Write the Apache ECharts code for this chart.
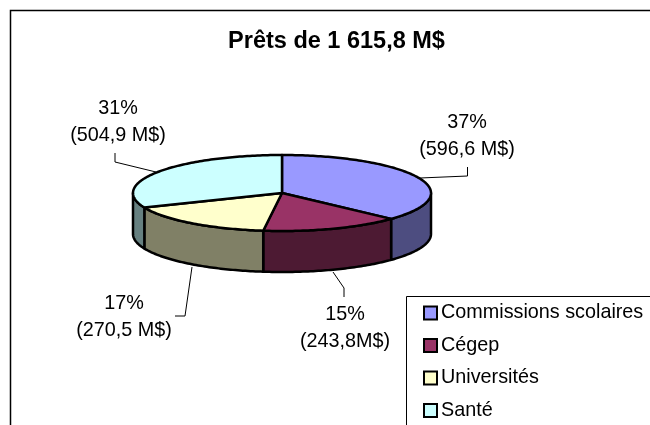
<!DOCTYPE html>
<html>
<head>
<meta charset="utf-8">
<style>
  html, body { margin: 0; padding: 0; background: #fff; }
  #chart { width: 650px; height: 425px; }
</style>
<script src="https://cdn.jsdelivr.net/npm/echarts@6/dist/echarts.min.js"></script>
</head>
<body>
<div id="chart"></div>
<script>
const categories = ['Commissions scolaires', 'Cégep', 'Universités', 'Santé'];
const amounts = [596.6, 243.8, 270.5, 504.9];
const topColors = ['#9999FF', '#993366', '#FFFFCC', '#CCFFFF'];
const sideColors = ['#4D4D80', '#4D1A33', '#808066', '#668080'];
const labelTexts = ['37%\n(596,6 M$)', '15%\n(243,8M$)', '17%\n(270,5 M$)', '31%\n(504,9 M$)'];
const labelPos = [[467, 136], [345, 328], [124, 317], [118, 122]];
const leaderLines = [
  [[420, 178], [467.5, 176], [467.5, 167]],
  [[333, 272], [344, 288], [344, 297]],
  [[192, 267], [185, 316], [175, 316]],
  [[115, 153], [115, 162], [156, 172]]
];

const cx = 282, cy = 193, rx = 149, ry = 38, depth = 41;
const total = amounts.reduce((a, b) => a + b, 0);

function pt (deg, dy) {
  const t = deg * Math.PI / 180;
  return [cx + rx * Math.sin(t), cy - ry * Math.cos(t) + (dy || 0)];
}
function arc (from, to, dy) {
  const pts = [];
  for (let d = from; d < to; d += 1) pts.push(pt(d, dy));
  pts.push(pt(to, dy));
  return pts;
}

// no 3d pie in echarts, so each slice is a custom series
function renderSlice (index) {
  return function (params, api) {
    const start = api.value(0) / total * 360;
    const end = api.value(1) / total * 360;
    const children = [];
    const from = Math.max(start, 90);
    const to = Math.min(end, 270);
    if (from < to) {
      children.push({
        type: 'polygon',
        shape: { points: arc(from, to, 0).concat(arc(from, to, depth).reverse()) },
        style: { fill: sideColors[index], stroke: '#000', lineWidth: 2.5, lineJoin: 'round' }
      });
    }
    children.push({
      type: 'polygon',
      shape: { points: [[cx, cy]].concat(arc(start, end, 0)) },
      style: { fill: topColors[index], stroke: '#000', lineWidth: 2.5, lineJoin: 'round' }
    });
    return { type: 'group', children: children };
  };
}

let running = 0;
const series = categories.map((name, i) => {
  const s = {
    name: name,
    type: 'custom',
    coordinateSystem: 'none',
    silent: true,
    animation: false,
    itemStyle: { color: topColors[i] },
    renderItem: renderSlice(i),
    data: [[running, running + amounts[i]]]
  };
  running += amounts[i];
  return s;
});

const frame = [
  { type: 'polyline', shape: { points: [[10.5, 425], [10.5, 10.5], [650, 10.5]] }, style: { fill: null, stroke: '#000', lineWidth: 1.5 } },
  { type: 'polyline', shape: { points: [[406.5, 425], [406.5, 296.5], [650, 296.5]] }, style: { fill: null, stroke: '#000', lineWidth: 1 } }
];
const leaders = leaderLines.map(points => ({
  type: 'polyline',
  shape: { points: points },
  style: { fill: null, stroke: '#000', lineWidth: 1 }
}));
const labels = labelTexts.map((text, i) => ({
  type: 'text',
  x: labelPos[i][0],
  y: labelPos[i][1],
  style: {
    text: text,
    fill: '#000',
    font: '19.8px "Liberation Sans"',
    lineHeight: 27,
    align: 'center',
    verticalAlign: 'middle'
  }
}));

const chart = echarts.init(document.getElementById('chart'));
chart.setOption({
  animation: false,
  backgroundColor: '#fff',
  title: {
    text: 'Prêts de 1 615,8 M$',
    left: 331.5,
    top: 25,
    textAlign: 'center',
    textStyle: { fontFamily: 'Liberation Sans', fontSize: 23.5, fontWeight: 'bold', color: '#000' }
  },
  legend: {
    orient: 'vertical',
    left: 423,
    top: 303,
    padding: 0,
    itemGap: 12.5,
    itemWidth: 13,
    itemHeight: 13,
    icon: 'rect',
    selectedMode: false,
    data: categories,
    itemStyle: { borderColor: '#000', borderWidth: 2 },
    textStyle: { fontFamily: 'Liberation Sans', fontSize: 19.8, color: '#000', padding: [0, 0, 0, -1], lineHeight: 20 }
  },
  graphic: { elements: frame.concat(leaders, labels) },
  series: series
});
</script>
</body>
</html>
